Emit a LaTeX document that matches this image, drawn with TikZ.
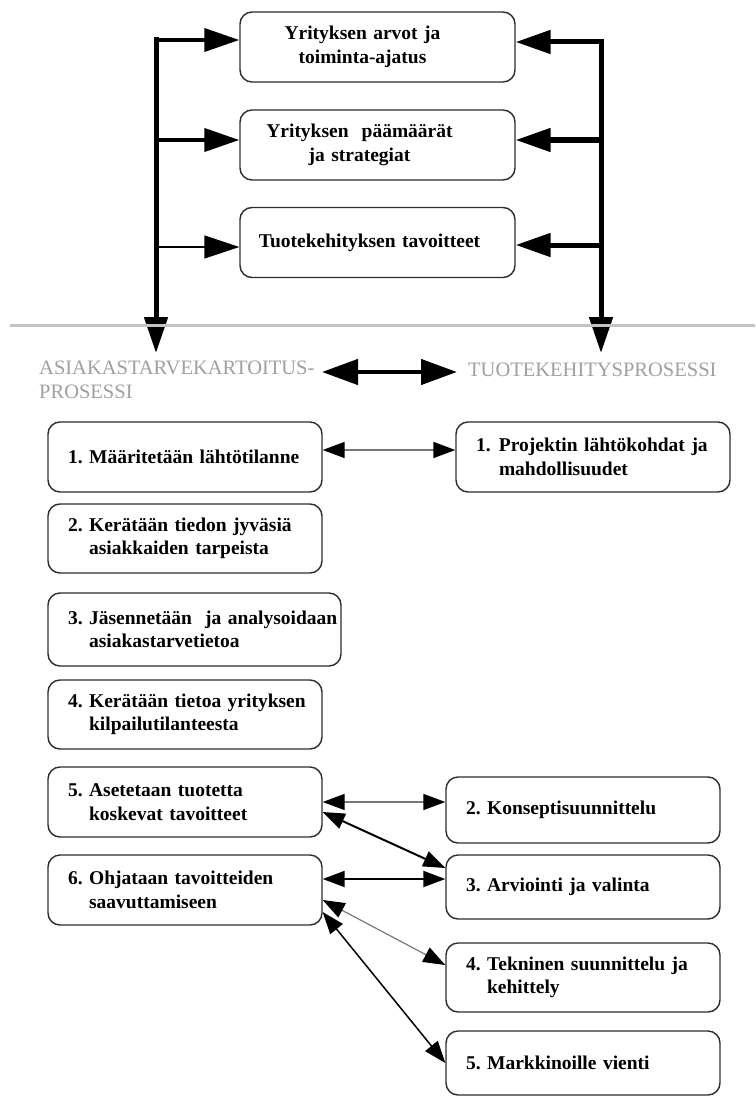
\documentclass[tikz,border=0pt]{standalone}
\usepackage{fontspec}
\setmainfont{Liberation Serif}
\usetikzlibrary{arrows.meta}

\definecolor{boxline}{RGB}{45,45,45}
\definecolor{lblgray}{RGB}{160,160,160}
\definecolor{sepgray}{RGB}{195,195,195}
\definecolor{linkgray}{RGB}{120,120,120}

\begin{document}
\begin{tikzpicture}[x=1pt,y=1pt,
  box/.style={draw=boxline, line width=1.4pt, rounded corners=12pt,
    fill=white, inner xsep=0pt, inner ysep=0pt,
    font=\bfseries\fontsize{19.5}{23.5}\selectfont\frenchspacing},
  topbox/.style={box, minimum width=275pt, text width=275pt, minimum height=70pt,
    align=left, execute at begin node={\leftskip=0pt plus 1fil\rightskip=#1 plus 1fil\parfillskip=0pt}},
  lbox/.style={box, minimum width=#1, text width=#1, minimum height=70pt,
    align=left, execute at begin node={\leftskip=20pt}},
  lbl/.style={inner sep=0pt, text=lblgray, align=left,
    font=\fontsize{20.5}{24}\selectfont},
  trunk/.style={line width=5pt, line cap=rect, -{Triangle[length=36pt,width=23pt]}},
  feed/.style={line width=#1, -{Triangle[length=35pt,width=23pt]}},
  link/.style={line width=1.5pt,
    {Triangle[length=22pt,width=16pt,black]}-{Triangle[length=22pt,width=16pt,black]}},
]
\useasboundingbox[fill=white] (0,0) rectangle (755,-1113);

% company level
\node[topbox=30pt] (T1) at (377.5,-47) {Yrityksen arvot ja\\toiminta-ajatus};
\node[topbox=36pt] (T2) at (377.5,-145) {Yrityksen\ \ päämäärät\\ja strategiat};
\node[topbox=16pt] (T3) at (377.5,-242.5) {Tuotekehityksen tavoitteet};

% trunks feeding the two processes
\coordinate (L0) at (156,-40);
\coordinate (L1c) at (156,-140);
\coordinate (L2c) at (156,-247);
\coordinate (Lend) at (156,-353);
\coordinate (R0) at (601,-42);
\coordinate (R1c) at (601,-140);
\coordinate (R2c) at (601,-245);
\coordinate (Rend) at (601,-353);

\draw[trunk] (L0) -- (Lend);
\draw[feed=4pt] (L0) -- (L0 -| T1.west);
\draw[feed=4pt] (L1c) -- (L1c -| T2.west);
\draw[feed=1.5pt] (L2c) -- (L2c -| T3.west);

\draw[trunk] (R0) -- (Rend);
\draw[feed=5pt] (R0) -- (R0 -| T1.east);
\draw[feed=5pt] (R1c) -- (R1c -| T2.east);
\draw[feed=5pt] (R2c) -- (R2c -| T3.east);

% separator
\coordinate (sepL) at (10,-325);
\coordinate (sepR) at (755,-325);
\draw[sepgray, line width=3pt] (sepL) -- (sepR);

% process headings
\node[lbl, anchor=west] (AS) at (39,-380) {ASIAKASTARVEKARTOITUS-\\PROSESSI};
\node[lbl, anchor=west] (TP) at (468,-370) {TUOTEKEHITYSPROSESSI};
\draw[line width=4.5pt,
  {Triangle[length=36pt,width=25pt]}-{Triangle[length=36pt,width=25pt]}]
  ([xshift=-146pt]TP.west |- 0,-372) -- ([xshift=-11pt]TP.west |- 0,-372);

% customer needs process
\node[lbox=274pt] (A1) at (185,-457) {1. Määritetään lähtötilanne};
\node[lbox=274pt, minimum height=69pt] (A2) at (185,-538.5)
  {2. Kerätään tiedon jyväsiä\\\phantom{2. }asiakkaiden tarpeista};
\node[lbox=293pt, minimum height=73pt] (A3) at (194.5,-629.5)
  {3. Jäsennetään\ \ ja analysoidaan\\\phantom{3. }asiakastarvetietoa};
\node[lbox=274pt, minimum height=69pt] (A4) at (185,-714.5)
  {4. Kerätään tietoa yrityksen\\\phantom{4. }kilpailutilanteesta};
\node[lbox=274pt] (A5) at (185,-802)
  {5. Asetetaan tuotetta\\\phantom{5. }koskevat tavoitteet};
\node[lbox=274pt] (A6) at (185,-890)
  {6. Ohjataan tavoitteiden\\\phantom{6. }saavuttamiseen};

% product development process
\node[lbox=274pt] (P1) at (593,-457)
  {\makebox[23pt][l]{1.}Projektin lähtökohdat ja\\\hspace*{23pt}mahdollisuudet};
\node[lbox=274pt, minimum height=66pt] (P2) at (583,-810) {2. Konseptisuunnittelu};
\node[lbox=274pt, minimum height=64pt] (P3) at (583,-887) {3. Arviointi ja valinta};
\node[lbox=274pt, minimum height=69pt] (P4) at (583,-977.5)
  {4. Tekninen suunnittelu ja\\\phantom{4. }kehittely};
\node[lbox=274pt, minimum height=64pt] (P5) at (583,-1063) {5. Markkinoille vienti};

% links between the processes
\draw[link, draw=linkgray] ([yshift=7pt]A1.east) -- ([yshift=7pt]A1.east -| P1.west);
\draw[link, draw=linkgray] (A5.east) -- (A5.east -| P2.west);
\draw[link, line width=2pt] ([yshift=11pt]A6.east) -- ([yshift=11pt]A6.east -| P3.west);
\draw[link, line width=2pt] ([yshift=-10pt]A5.east) -- ([yshift=19pt]P3.west);
\draw[link, draw=linkgray, line width=1.2pt] ([yshift=-10pt]A6.east) -- ([yshift=12.5pt]P4.west);
\draw[link] ([yshift=-22pt]A6.east) -- (P5.west);
\end{tikzpicture}
\end{document}
